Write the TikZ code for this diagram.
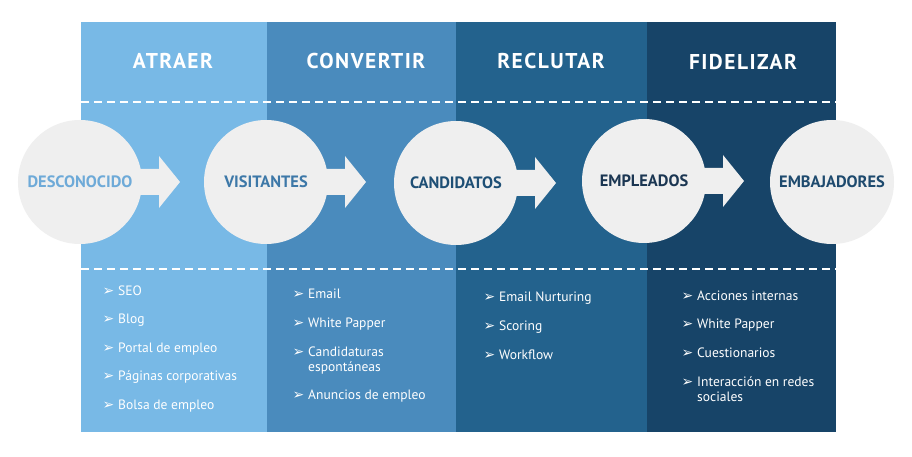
\documentclass[tikz,border=0pt]{standalone}
\usepackage{fontspec}
\setmainfont{PT Sans}
\newfontfamily\titlefont[LetterSpace=7]{PT Sans}
\newfontfamily\bulfont{DejaVu Sans}
\usetikzlibrary{calc}
\definecolor{colA}{HTML}{78B9E6}
\definecolor{colB}{HTML}{4A8BBD}
\definecolor{colC}{HTML}{23628D}
\definecolor{colD}{HTML}{174468}
\definecolor{circfill}{HTML}{EFEFEF}
\definecolor{tA}{HTML}{6EAAD8}
\definecolor{tB}{HTML}{3D78A8}
\definecolor{tC}{HTML}{1E4F75}
\definecolor{tD}{HTML}{1B3652}
\definecolor{tE}{HTML}{1E4A6E}
\newcommand{\bul}{\llap{{\bulfont\fontsize{14}{14}\selectfont ➢}\hspace{4bp}}}
\tikzset{
  stage/.style={circle, fill=circfill, minimum size=124bp, inner sep=0,
    font=\fontsize{16.5}{18}\bfseries\selectfont},
  title/.style={anchor=base, text=white, inner sep=0,
    font=\titlefont\fontsize{21.5}{24}\bfseries\selectfont},
  item/.style={anchor=base west, text=white, inner sep=0, align=left,
    font=\fontsize{13.6}{15}\selectfont},
  sep/.style={white, line width=1.6bp, dash pattern=on 8bp off 5bp},
  blockarrow/.style={fill=circfill}
}
\begin{document}
\begin{tikzpicture}[x=1bp,y=-1bp]
\useasboundingbox (0,0) rectangle (912,457);
\fill[white] (0,0) rectangle (912,457);
% columns
\fill[colA] (81,22) rectangle (267,432);
\fill[colB] (267,22) rectangle (456,432);
\fill[colC] (456,22) rectangle (647,432);
\fill[colD] (647,22) rectangle (836,432);
% separators
\coordinate (s1l) at (81,102);
\coordinate (s1r) at (836,102);
\coordinate (s2l) at (81,269);
\coordinate (s2r) at (836,269);
\draw[sep] (s1l) -- (s1r);
\draw[sep] (s2l) -- (s2r);
% titles
\node[title] (t1) at (173,69) {ATRAER};
\node[title] (t2) at (366,69) {CONVERTIR};
\node[title] (t3) at (551,69) {RECLUTAR};
\node[title] (t4) at (743,70) {FIDELIZAR};
% stages
\node[stage, text=tA] (c1) at (80,182) {DESCONOCIDO};
\node[stage, text=tB] (c2) at (266,182) {VISITANTES};
\node[stage, text=tC] (c3) at (456,183) {CANDIDATOS};
\node[stage, text=tD] (c4) at (644,181) {EMPLEADOS};
\node[stage, text=tE] (c5) at (832,182) {EMBAJADORES};
% block arrows
\foreach \c in {c1,c2,c3,c4}{
  \fill[blockarrow] ($(\c.center)+(55,-13)$) -- ($(\c.center)+(79,-13)$)
    -- ($(\c.center)+(79,-26)$) -- ($(\c.center)+(100,0)$)
    -- ($(\c.center)+(79,26)$) -- ($(\c.center)+(79,13)$)
    -- ($(\c.center)+(55,13)$) -- cycle;
}
% lists
\begin{scope}[every node/.append style={text=white!92!colA}]
\node[item] (a1) at (118,295.5) {\bul SEO};
\node[item] (a2) at (118,324) {\bul Blog};
\node[item] (a3) at (118,352.5) {\bul Portal de empleo};
\node[item] (a4) at (118,381) {\bul Páginas corporativas};
\node[item] (a5) at (118,409.5) {\bul Bolsa de empleo};
\end{scope}
\node[item] (b1) at (308,298.5) {\bul Email};
\node[item] (b2) at (308,327.5) {\bul White Papper};
\node[item] (b3) at (308,371.5) {\bul Candidaturas\\espontáneas};
\node[item] (b4) at (308,399.5) {\bul Anuncios de empleo};
\node[item] (d1) at (499,301.5) {\bul Email Nurturing};
\node[item] (d2) at (499,330.5) {\bul Scoring};
\node[item] (d3) at (499,359.5) {\bul Workflow};
\node[item] (e1) at (697,300.5) {\bul Acciones internas};
\node[item] (e2) at (697,328.5) {\bul White Papper};
\node[item] (e3) at (697,357.5) {\bul Cuestionarios};
\node[item] (e4) at (697,401.5) {\bul Interacción en redes\\sociales};
\end{tikzpicture}
\end{document}
